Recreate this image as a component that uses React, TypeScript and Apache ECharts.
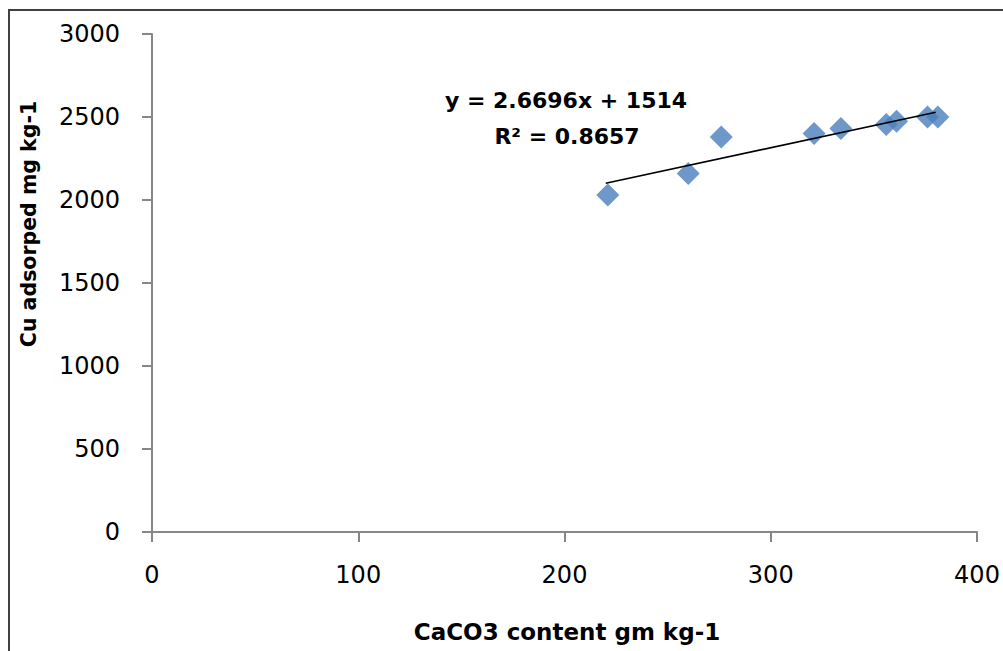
import React, { useEffect, useRef } from "react";
import * as echarts from "echarts";

const caco3Content: number[] = [221, 260, 276, 321, 334, 356, 361, 376, 381];
const cuAdsorbed: number[] = [2030, 2160, 2380, 2400, 2430, 2455, 2475, 2500, 2500];
const trendSlope = 2.6696;
const trendIntercept = 1514;
const trendXRange: number[] = [220, 380];
const equationLines: string[] = ["y = 2.6696x + 1514", "R² = 0.8657"];
const xTitle = "CaCO3 content gm kg-1";
const yTitle = "Cu adsorped mg kg-1";

export default function App() {
  const ref = useRef<HTMLDivElement>(null);
  useEffect(() => {
    if (!ref.current) return;
    const chart = echarts.init(ref.current, undefined, { renderer: "svg" });
    const points = caco3Content.map((x, i) => [x, cuAdsorbed[i]]);
    const trend = trendXRange.map((x) => [x, trendSlope * x + trendIntercept]);
    const font = "'DejaVu Sans', sans-serif";
    const boldText = (text: string, x: number, y: number, size: number, rotation = 0) => ({
      type: "text",
      x,
      y,
      rotation,
      style: {
        text,
        fontFamily: font,
        fontWeight: "bold",
        fontSize: size,
        fill: "#000",
        align: "center",
        verticalAlign: "middle",
      },
    });
    chart.setOption({
      animation: false,
      backgroundColor: "#ffffff",
      grid: { left: 152, right: 26, top: 34, bottom: 119, containLabel: false },
      xAxis: {
        type: "value",
        min: 0,
        max: 400,
        interval: 100,
        splitLine: { show: false },
        axisLine: { show: true, onZero: false, lineStyle: { color: "#868686", width: 2 } },
        axisTick: { show: true, length: 10, lineStyle: { color: "#868686", width: 2 } },
        axisLabel: {
          margin: 31,
          color: "#000",
          fontSize: 24,
          fontFamily: font,
          formatter: (v: number) => String(v),
        },
      },
      yAxis: {
        type: "value",
        min: 0,
        max: 3000,
        interval: 500,
        splitLine: { show: false },
        axisLine: { show: true, lineStyle: { color: "#868686", width: 2 } },
        axisTick: { show: true, length: 10, lineStyle: { color: "#868686", width: 2 } },
        axisLabel: {
          margin: 32,
          color: "#000",
          fontSize: 24,
          fontFamily: font,
          formatter: (v: number) => String(v),
        },
      },
      series: [
        {
          type: "scatter",
          data: points,
          symbol: "diamond",
          symbolSize: 23,
          itemStyle: { color: "#4A7EBB" },
          z: 3,
        },
        {
          type: "line",
          data: trend,
          symbol: "none",
          lineStyle: { color: "#000", width: 1.6 },
          z: 4,
        },
      ],
      graphic: [
        {
          type: "rect",
          shape: { x: 9, y: 10, width: 1010, height: 660 },
          style: { fill: "none", stroke: "#404040", lineWidth: 2 },
          silent: true,
        },
        boldText(equationLines[0], 566, 100, 22),
        boldText(equationLines[1], 567, 136, 22),
        boldText(xTitle, 567, 632, 23),
        boldText(yTitle, 29, 224, 20.5, Math.PI / 2),
      ],
    });
    return () => chart.dispose();
  }, []);
  return (
    <div
      ref={ref}
      style={{ position: "fixed", left: 0, top: 0, width: 1003, height: 651 }}
    />
  );
}
